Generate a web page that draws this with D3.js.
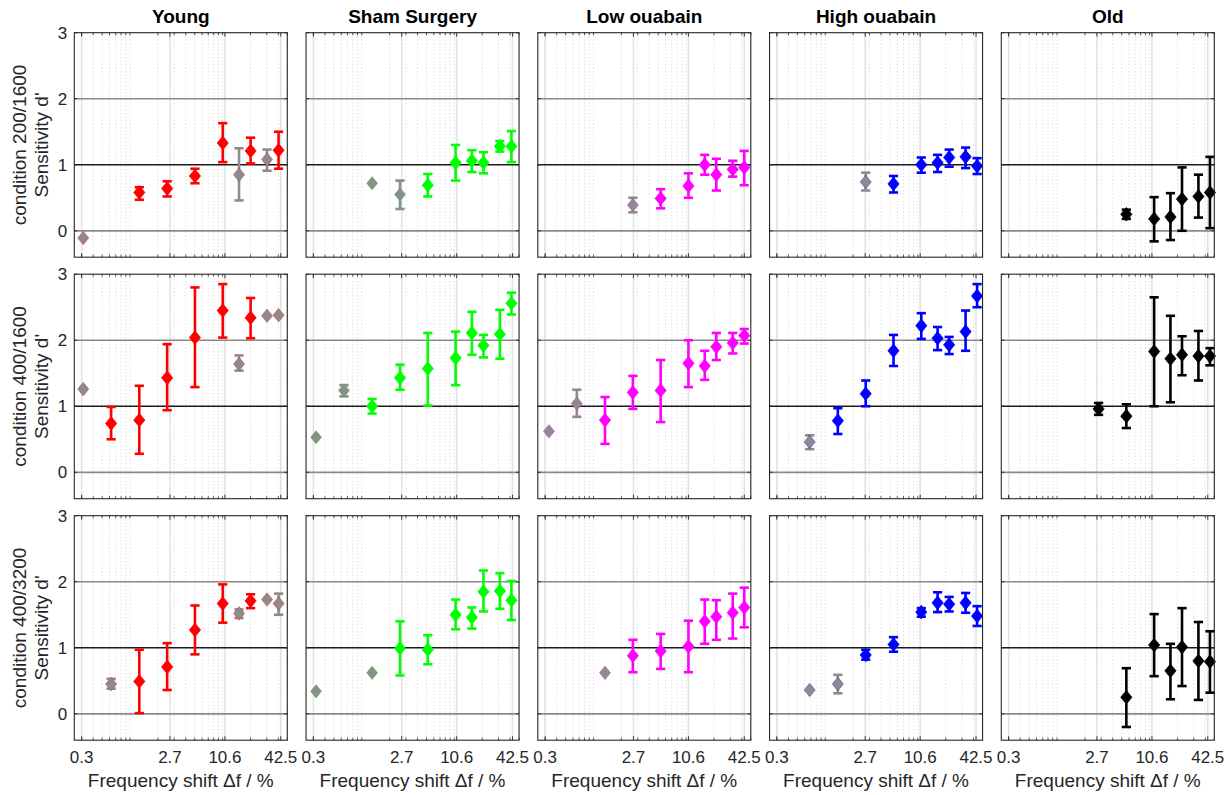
<!DOCTYPE html>
<html>
<head>
<meta charset="utf-8">
<script src="https://cdn.jsdelivr.net/npm/d3@7"></script>
<style>
  html, body { margin: 0; padding: 0; background: #fff; }
  svg { display: block; font-family: "Liberation Sans", Arial, sans-serif; }
</style>
</head>
<body>
<svg id="chart" width="1231" height="795"></svg>
<script>
// ---------------- data ----------------
const groups = ["Young", "Sham Surgery", "Low ouabain", "High ouabain", "Old"];
const conditions = ["condition 200/1600", "condition 400/1600", "condition 400/3200"];
const groupColors = ["#ff0000", "#00ff00", "#ff00ff", "#0000ff", "#000000"];
const excludedColor = "#8c8c8c";
const xTickValues = [0.3, 2.7, 10.6, 42.5];
const xTickLabels = ["0.3", "2.7", "10.6", "42.5"];
const yTickValues = [0, 1, 2, 3];
const xDomain = [0.25, 50];
const yDomain = [-0.4, 3];
const refLines = [0, 1, 2];

// rows: [frequency shift %, d', lower, upper, excluded(1 = grey)]
const young_200_1600 = [
  [0.33, -0.11, null, null, 1], [1.33, 0.58, 0.47, 0.66, 0], [2.66, 0.64, 0.52, 0.75, 0],
  [5.31, 0.83, 0.72, 0.94, 0], [10.6, 1.33, 1.04, 1.63, 0], [15.9, 0.85, 0.46, 1.25, 1],
  [21.2, 1.21, 1.02, 1.41, 0], [31.9, 1.08, 0.91, 1.23, 1], [42.5, 1.22, 0.94, 1.50, 0]];
const sham_200_1600 = [
  [1.33, 0.72, null, null, 1], [2.66, 0.55, 0.33, 0.76, 1], [5.31, 0.69, 0.52, 0.86, 0],
  [10.6, 1.03, 0.76, 1.30, 0], [15.9, 1.06, 0.89, 1.22, 0], [21.2, 1.03, 0.87, 1.19, 0],
  [31.9, 1.28, 1.20, 1.36, 0], [42.5, 1.28, 1.04, 1.51, 0]];
const low_200_1600 = [
  [2.66, 0.39, 0.28, 0.50, 1], [5.31, 0.49, 0.34, 0.63, 0], [10.6, 0.68, 0.50, 0.87, 0],
  [15.9, 1.00, 0.85, 1.15, 0], [21.2, 0.85, 0.61, 1.09, 0], [31.9, 0.93, 0.82, 1.06, 0],
  [42.5, 0.96, 0.69, 1.21, 0]];
const high_200_1600 = [
  [2.66, 0.74, 0.61, 0.88, 1], [5.31, 0.71, 0.58, 0.83, 0], [10.6, 1.00, 0.88, 1.11, 0],
  [15.9, 1.03, 0.89, 1.15, 0], [21.2, 1.11, 0.97, 1.23, 0], [31.9, 1.12, 0.95, 1.26, 0],
  [42.5, 0.98, 0.86, 1.10, 0]];
const old_200_1600 = [
  [5.31, 0.25, 0.18, 0.32, 0], [10.6, 0.18, -0.16, 0.51, 0], [15.9, 0.21, -0.14, 0.57, 0],
  [21.2, 0.48, 0.00, 0.96, 0], [31.9, 0.52, 0.20, 0.85, 0], [42.5, 0.58, 0.04, 1.12, 0]];

const young_400_1600 = [
  [0.33, 1.26, null, null, 1], [0.66, 0.74, 0.50, 0.99, 0], [1.33, 0.79, 0.28, 1.31, 0],
  [2.66, 1.43, 0.94, 1.94, 0], [5.31, 2.04, 1.29, 2.80, 0], [10.6, 2.45, 2.04, 2.85, 0],
  [15.9, 1.64, 1.54, 1.77, 1], [21.2, 2.34, 2.03, 2.64, 0], [31.9, 2.37, null, null, 1],
  [42.5, 2.38, null, null, 1]];
const sham_400_1600 = [
  [0.33, 0.53, null, null, 1], [0.66, 1.24, 1.15, 1.32, 1], [1.33, 1.00, 0.89, 1.11, 0],
  [2.66, 1.43, 1.25, 1.63, 0], [5.31, 1.57, 1.01, 2.11, 0], [10.6, 1.73, 1.32, 2.13, 0],
  [15.9, 2.11, 1.78, 2.43, 0], [21.2, 1.92, 1.74, 2.08, 0], [31.9, 2.09, 1.72, 2.46, 0],
  [42.5, 2.56, 2.39, 2.72, 0]];
const low_400_1600 = [
  [0.33, 0.62, null, null, 1], [0.66, 1.04, 0.84, 1.25, 1], [1.33, 0.79, 0.43, 1.14, 0],
  [2.66, 1.21, 0.96, 1.46, 0], [5.31, 1.24, 0.76, 1.70, 0], [10.6, 1.65, 1.29, 2.00, 0],
  [15.9, 1.61, 1.40, 1.84, 0], [21.2, 1.90, 1.70, 2.11, 0], [31.9, 1.96, 1.80, 2.11, 0],
  [42.5, 2.07, 1.95, 2.17, 0]];
const high_400_1600 = [
  [0.66, 0.46, 0.35, 0.56, 1], [1.33, 0.78, 0.58, 0.97, 0], [2.66, 1.19, 1.00, 1.39, 0],
  [5.31, 1.84, 1.61, 2.08, 0], [10.6, 2.22, 2.02, 2.41, 0], [15.9, 2.03, 1.85, 2.20, 0],
  [21.2, 1.93, 1.79, 2.05, 0], [31.9, 2.13, 1.84, 2.45, 0], [42.5, 2.67, 2.50, 2.85, 0]];
const old_400_1600 = [
  [2.66, 0.96, 0.87, 1.05, 0], [5.31, 0.85, 0.67, 1.03, 0], [10.6, 1.83, 1.00, 2.65, 0],
  [15.9, 1.72, 1.06, 2.37, 0], [21.2, 1.78, 1.47, 2.06, 0], [31.9, 1.76, 1.39, 2.14, 0],
  [42.5, 1.76, 1.62, 1.88, 0]];

const young_400_3200 = [
  [0.66, 0.45, 0.38, 0.53, 1], [1.33, 0.49, 0.01, 0.97, 0], [2.66, 0.71, 0.36, 1.07, 0],
  [5.31, 1.27, 0.90, 1.64, 0], [10.6, 1.67, 1.38, 1.96, 0], [15.9, 1.52, 1.45, 1.58, 1],
  [21.2, 1.71, 1.60, 1.81, 0], [31.9, 1.73, null, null, 1], [42.5, 1.67, 1.50, 1.82, 1]];
const sham_400_3200 = [
  [0.33, 0.34, null, null, 1], [1.33, 0.62, null, null, 1], [2.66, 0.99, 0.58, 1.40, 0],
  [5.31, 0.97, 0.75, 1.19, 0], [10.6, 1.50, 1.28, 1.73, 0], [15.9, 1.46, 1.29, 1.61, 0],
  [21.2, 1.85, 1.55, 2.17, 0], [31.9, 1.86, 1.59, 2.13, 0], [42.5, 1.72, 1.42, 2.01, 0]];
const low_400_3200 = [
  [1.33, 0.62, null, null, 1], [2.66, 0.88, 0.63, 1.12, 0], [5.31, 0.95, 0.68, 1.21, 0],
  [10.6, 1.02, 0.63, 1.41, 0], [15.9, 1.40, 1.06, 1.73, 0], [21.2, 1.47, 1.12, 1.72, 0],
  [31.9, 1.53, 1.14, 1.82, 0], [42.5, 1.61, 1.31, 1.91, 0]];
const high_400_3200 = [
  [0.66, 0.36, null, null, 1], [1.33, 0.45, 0.31, 0.59, 1], [2.66, 0.89, 0.82, 0.97, 0],
  [5.31, 1.05, 0.94, 1.16, 0], [10.6, 1.54, 1.47, 1.60, 0], [15.9, 1.68, 1.54, 1.84, 0],
  [21.2, 1.66, 1.55, 1.77, 0], [31.9, 1.68, 1.53, 1.83, 0], [42.5, 1.48, 1.33, 1.63, 0]];
const old_400_3200 = [
  [5.31, 0.25, -0.20, 0.69, 0], [10.6, 1.04, 0.57, 1.51, 0], [15.9, 0.65, 0.22, 1.06, 0],
  [21.2, 1.01, 0.42, 1.60, 0], [31.9, 0.80, 0.21, 1.39, 0], [42.5, 0.79, 0.32, 1.25, 0]];

const panelData = [
  [young_200_1600, sham_200_1600, low_200_1600, high_200_1600, old_200_1600],
  [young_400_1600, sham_400_1600, low_400_1600, high_400_1600, old_400_1600],
  [young_400_3200, sham_400_3200, low_400_3200, high_400_3200, old_400_3200]];

// ---------------- layout ----------------
const svg = d3.select("#chart");
const W = 213, H = 224.5;
const left0 = 74.3, stepX = 231.75;
const top0 = 32.7, stepY = 241.5;
const dodgePx = [-2.2, -1.1, 0, 1.1, 2.2];
const textColor = "#262626";

const x = d3.scaleLog().domain(xDomain).range([0, W]);
const y = d3.scaleLinear().domain(yDomain).range([H, 0]);

const minorTicks = [];
[0.1, 1, 10].forEach(dec => { for (let k = 1; k <= 9; k++) { const v = k * dec; if (v >= xDomain[0] && v <= xDomain[1]) minorTicks.push(+v.toFixed(4)); } });

const sym = d3.symbol(); // not used for shape; custom diamond below
function diamond(cx, cy, hw, hh) {
  return `M${cx},${cy - hh}L${cx + hw},${cy}L${cx},${cy + hh}L${cx - hw},${cy}Z`;
}

for (let r = 0; r < 3; r++) {
  for (let c = 0; c < 5; c++) {
    const g = svg.append("g").attr("transform", `translate(${left0 + c * stepX},${top0 + r * stepY})`);

    // minor grid (dotted)
    g.selectAll(".mg").data(minorTicks).enter().append("line")
      .attr("x1", d => x(d)).attr("x2", d => x(d)).attr("y1", 0).attr("y2", H)
      .attr("stroke", "#d4d4d4").attr("stroke-width", 1).attr("stroke-dasharray", "1,2.5");
    // major grid
    g.selectAll(".Mg").data(xTickValues).enter().append("line")
      .attr("x1", d => x(d)).attr("x2", d => x(d)).attr("y1", 0).attr("y2", H)
      .attr("stroke", "#e3e3e3").attr("stroke-width", 1.6);

    // reference lines
    g.selectAll(".ref").data(refLines).enter().append("line")
      .attr("x1", 0).attr("x2", W).attr("y1", d => y(d)).attr("y2", d => y(d))
      .attr("stroke", d => d === 1 ? "#1a1a1a" : "#8a8a8a").attr("stroke-width", 1.7);

    // ticks (inward, top and bottom)
    [[0, 1], [H, -1]].forEach(([yy, dir]) => {
      g.selectAll(null).data(minorTicks).enter().append("line")
        .attr("x1", d => x(d)).attr("x2", d => x(d)).attr("y1", yy).attr("y2", yy - dir * -2.5)
        .attr("stroke", textColor).attr("stroke-width", 0.8);
      g.selectAll(null).data(xTickValues).enter().append("line")
        .attr("x1", d => x(d)).attr("x2", d => x(d)).attr("y1", yy).attr("y2", yy + dir * 4)
        .attr("stroke", textColor).attr("stroke-width", 0.9);
    });
    // y ticks inward left and right
    g.selectAll(null).data(yTickValues).enter().append("line")
      .attr("x1", 0).attr("x2", 3).attr("y1", d => y(d)).attr("y2", d => y(d))
      .attr("stroke", textColor).attr("stroke-width", 0.9);
    g.selectAll(null).data(yTickValues).enter().append("line")
      .attr("x1", W).attr("x2", W - 3).attr("y1", d => y(d)).attr("y2", d => y(d))
      .attr("stroke", textColor).attr("stroke-width", 0.9);

    // data
    const color = groupColors[c];
    const dodge = dodgePx[c];
    const px = d => x(d[0]) + dodge;
    const pts = panelData[r][c];
    const pg = g.append("g");
    pts.forEach(d => {
      const col = d[4] ? excludedColor : color;
      const cx = px(d);
      if (d[2] !== null) {
        pg.append("line").attr("x1", cx).attr("x2", cx).attr("y1", y(d[2])).attr("y2", y(d[3]))
          .attr("stroke", col).attr("stroke-width", 2.6);
        [d[2], d[3]].forEach(v => {
          pg.append("line").attr("x1", cx - 4.6).attr("x2", cx + 4.6).attr("y1", y(v)).attr("y2", y(v))
            .attr("stroke", col).attr("stroke-width", 2.6);
        });
      }
      pg.append("path").attr("d", diamond(cx, y(d[1]), 5.6, 6.8))
        .attr("fill", col)
        .attr("stroke", d[4] ? d3.color(color).copy({opacity: 0.45}) : col)
        .attr("stroke-width", 0.8);
    });

    // box
    g.append("rect").attr("x", 0).attr("y", 0).attr("width", W).attr("height", H)
      .attr("fill", "none").attr("stroke", textColor).attr("stroke-width", 1.1);

    // titles
    if (r === 0) {
      g.append("text").attr("x", W / 2).attr("y", -10).attr("text-anchor", "middle")
        .attr("font-size", 19).attr("font-weight", "bold").attr("fill", "#000").text(groups[c]);
    }
    // y tick labels
    if (c === 0) {
      g.selectAll(null).data(yTickValues).enter().append("text")
        .attr("x", -7).attr("y", d => y(d)).attr("dy", "0.36em").attr("text-anchor", "end")
        .attr("font-size", 17).attr("fill", textColor).text(d => d);
      const ly = H / 2;
      g.append("text").attr("transform", `translate(-48,${ly}) rotate(-90)`).attr("text-anchor", "middle")
        .attr("font-size", 19).attr("fill", textColor).text(conditions[r]);
      g.append("text").attr("transform", `translate(-26,${ly}) rotate(-90)`).attr("text-anchor", "middle")
        .attr("font-size", 19).attr("fill", textColor).text("Sensitivity d'");
    }
    // x tick labels and label
    if (r === 2) {
      g.selectAll(null).data(xTickValues).enter().append("text")
        .attr("x", d => x(d)).attr("y", H + 22.5).attr("text-anchor", "middle")
        .attr("font-size", 17).attr("fill", textColor).text((d, i) => xTickLabels[i]);
      g.append("text").attr("x", W / 2).attr("y", H + 47).attr("text-anchor", "middle")
        .attr("font-size", 19).attr("fill", textColor).text("Frequency shift \u0394f / %");
    }
  }
}
</script>
</body>
</html>
